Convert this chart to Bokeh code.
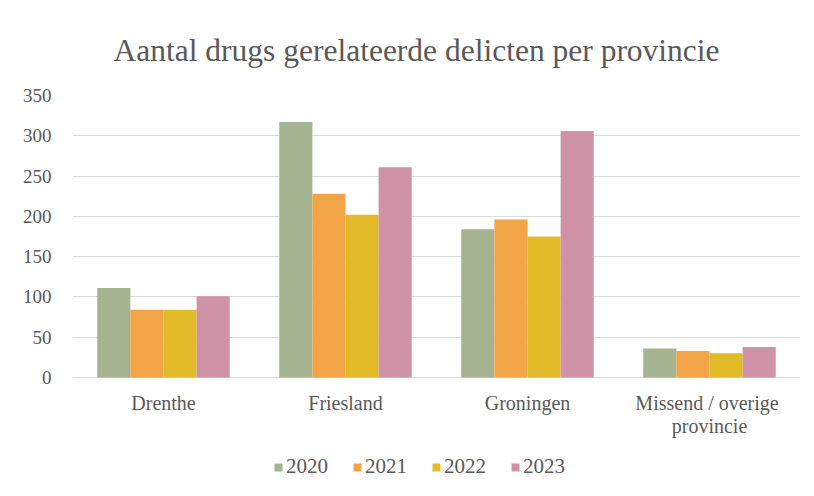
from bokeh.plotting import figure
from bokeh.models import ColumnDataSource, FactorRange, Range1d, Legend, LegendItem, FixedTicker
from bokeh.transform import dodge
from bokeh.embed import file_html
from bokeh.resources import INLINE

provinces = ["Drenthe", "Friesland", "Groningen", "Missend  / overige\nprovincie"]
years = ["2020", "2021", "2022", "2023"]
v2020 = [111, 317, 184, 36]
v2021 = [84, 228, 196, 33]
v2022 = [84, 202, 175, 30]
v2023 = [101, 261, 306, 38]
colors = ["#A5B391", "#F2A447", "#E3BB29", "#D092A7"]
y_ticks = [0, 50, 100, 150, 200, 250, 300, 350]

src = ColumnDataSource(dict(prov=provinces, y2020=v2020, y2021=v2021, y2022=v2022, y2023=v2023,
                            base=[0] * len(provinces)))

p = figure(width=806, height=480, x_range=FactorRange(*provinces), y_range=Range1d(-127.8, 350),
           output_backend="svg", toolbar_location=None,
           min_border_left=72, min_border_right=6, min_border_top=95, min_border_bottom=0)

FONT = "Liberation Serif"
TXT = "#595959"

p.title.text = "Aantal drugs gerelateerde delicten per provincie"
p.title.text_font = FONT
p.title.text_font_size = "31.5px"
p.title.text_font_style = "normal"
p.title.text_color = TXT
p.title.align = "left"
p.title.offset = 41
p.title.standoff = 56

bw = 0.182
offsets = [-1.5 * bw, -0.5 * bw, 0.5 * bw, 1.5 * bw]
items = []
for yr, col, off in zip(years, colors, offsets):
    r = p.vbar(x=dodge("prov", off, range=p.x_range), top="y" + yr, width=bw, source=src,
               fill_color=col, line_color=None)
    items.append(LegendItem(label=yr, renderers=[r]))

# category labels under the baseline
p.text(x="prov", y="base", text="prov", source=src, text_font=FONT, text_font_size="20px",
       text_color=TXT, text_align="center", text_baseline="top", y_offset=14,
       text_line_height=1.05)

p.xaxis.visible = False
p.xgrid.grid_line_color = None
p.ygrid.grid_line_color = "#D9D9D9"
p.ygrid.grid_line_width = 1
p.yaxis.ticker = FixedTicker(ticks=y_ticks)
p.yaxis.axis_line_color = None
p.yaxis.major_tick_line_color = None
p.yaxis.minor_tick_line_color = None
p.yaxis.major_label_standoff = 15
p.yaxis.major_label_text_font = FONT
p.yaxis.major_label_text_font_size = "19px"
p.yaxis.major_label_text_color = TXT

legend = Legend(items=items, orientation="horizontal", location=(201, 1),
                label_text_font=FONT, label_text_font_size="21px", label_text_color=TXT,
                glyph_width=10, glyph_height=10, label_standoff=3, spacing=24,
                border_line_color=None, background_fill_alpha=0, margin=0, padding=0)
p.add_layout(legend, "center")
p.outline_line_color = None

open("out.html", "w").write(file_html(p, INLINE))
